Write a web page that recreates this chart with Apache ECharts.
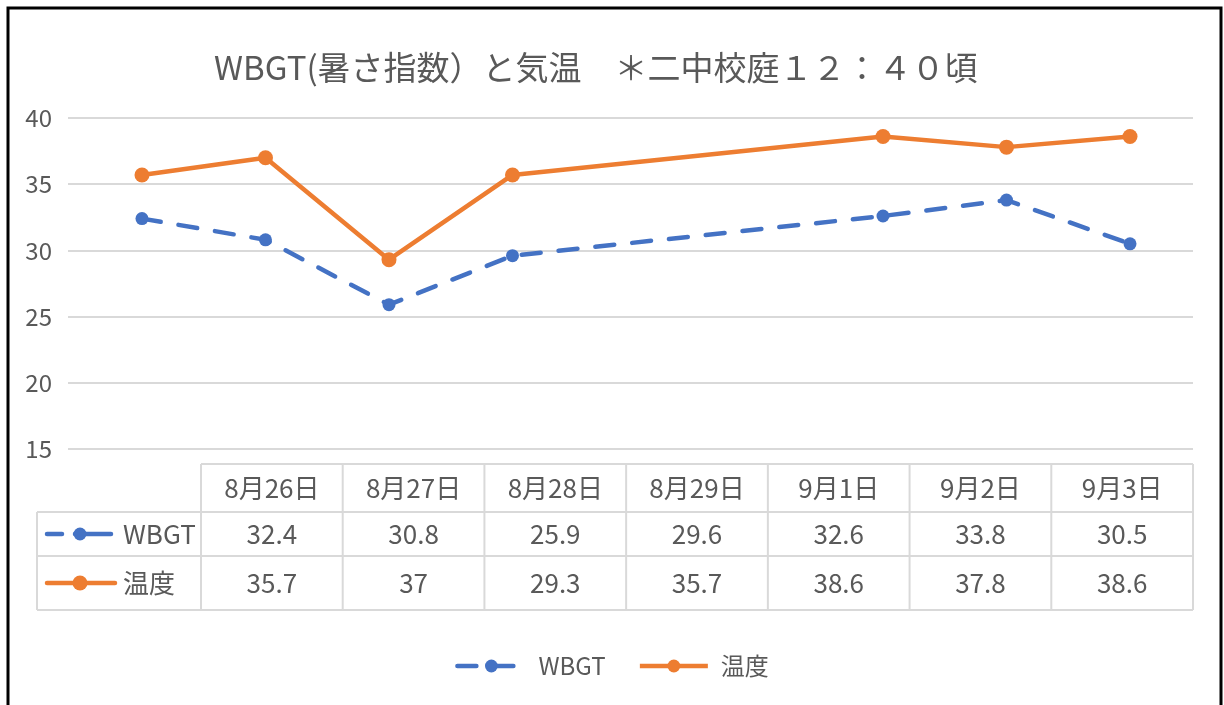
<!DOCTYPE html>
<html>
<head>
<meta charset="utf-8">
<script src="https://cdn.jsdelivr.net/npm/echarts@6/dist/echarts.min.js"></script>
<style>
html,body{margin:0;padding:0;background:#fff;}
#chart{width:1224px;height:705px;}
</style>
</head>
<body>
<div id="chart"></div>
<script>
// ---- data ----
const titleText = 'WBGT(暑さ指数）と気温　＊二中校庭１２：４０頃';
const dates = ['2023-08-26','2023-08-27','2023-08-28','2023-08-29','2023-09-01','2023-09-02','2023-09-03'];
const dateLabels = ['8月26日','8月27日','8月28日','8月29日','9月1日','9月2日','9月3日'];
const seriesNames = ['WBGT','温度'];
const wbgt = [32.4, 30.8, 25.9, 29.6, 32.6, 33.8, 30.5];
const temp = [35.7, 37, 29.3, 35.7, 38.6, 37.8, 38.6];
const wbgtLabels = ['32.4','30.8','25.9','29.6','32.6','33.8','30.5'];
const tempLabels = ['35.7','37','29.3','35.7','38.6','37.8','38.6'];

// ---- layout ----
const FONT = '"Noto Sans CJK JP", "Noto Sans", sans-serif';
const TXT = '#595959';
const GRIDC = '#d9d9d9';
const BLUE = '#4472C4';
const ORANGE = '#ED7D31';
const DAY = 86400000;
const parseD = s => { const p = s.split('-').map(Number); return new Date(p[0], p[1]-1, p[2]).getTime(); };
const t0 = parseD(dates[0]);
const xMin = t0 - 0.599 * DAY;
const xMax = xMin + 9.109 * DAY;

const tableLeft = 37, colStart = 201, colEnd = 1193;
const rowY = [464, 512, 556, 610];
const nCols = dateLabels.length;
const colW = (colEnd - colStart) / nCols;
const FS = 24;
const TFS = 26;

const graphics = [];
const lineStyle = {stroke: GRIDC, lineWidth: 2};
function hline(x1, x2, y){ graphics.push({type:'line', shape:{x1, y1:y, x2, y2:y}, style: lineStyle, silent:true}); }
function vline(x, y1, y2){ graphics.push({type:'line', shape:{x1:x, y1, x2:x, y2}, style: lineStyle, silent:true}); }
function text(str, x, y, align){ graphics.push({type:'text', x, y, style:{text:str, font:TFS + 'px ' + FONT, fill:TXT, align: align||'center', verticalAlign:'middle'}, silent:true}); }

// table grid lines
hline(colStart, colEnd, rowY[0]);
hline(tableLeft, colEnd, rowY[1]);
hline(tableLeft, colEnd, rowY[2]);
hline(tableLeft, colEnd, rowY[3]);
vline(tableLeft, rowY[1], rowY[3]);
for (let i = 0; i <= nCols; i++) vline(colStart + i * colW, rowY[0], rowY[3]);

// table texts
for (let i = 0; i < nCols; i++) {
  const cx = colStart + (i + 0.5) * colW;
  text(dateLabels[i], cx, (rowY[0] + rowY[1]) / 2);
  text(wbgtLabels[i], cx, (rowY[1] + rowY[2]) / 2);
  text(tempLabels[i], cx, (rowY[2] + rowY[3]) / 2);
}
// legend keys in table
const r1 = (rowY[1] + rowY[2]) / 2, r2 = (rowY[2] + rowY[3]) / 2;
graphics.push({type:'line', shape:{x1:47, y1:r1, x2:62, y2:r1}, style:{stroke:BLUE, lineWidth:4.5, lineCap:'round'}, silent:true});
graphics.push({type:'line', shape:{x1:75, y1:r1, x2:111, y2:r1}, style:{stroke:BLUE, lineWidth:4.5, lineCap:'round'}, silent:true});
graphics.push({type:'circle', shape:{cx:80, cy:r1, r:6.5}, style:{fill:BLUE}, silent:true});
graphics.push({type:'line', shape:{x1:47, y1:r2, x2:115, y2:r2}, style:{stroke:ORANGE, lineWidth:4.5, lineCap:'round'}, silent:true});
graphics.push({type:'circle', shape:{cx:80, cy:r2, r:7.5}, style:{fill:ORANGE}, silent:true});
text(seriesNames[0], 123, r1, 'left');
text(seriesNames[1], 123, r2, 'left');

// outer frame
graphics.push({type:'rect', shape:{x:8, y:8, width:1213, height:720}, style:{fill:'none', stroke:'#000', lineWidth:3}, silent:true});

const chart = echarts.init(document.getElementById('chart'), null, {renderer:'canvas'});
chart.setOption({
  animation: false,
  backgroundColor: '#fff',
  title: {
    text: titleText,
    left: 209, top: 46,
    textStyle: {fontFamily: FONT, fontSize: 33, fontWeight: 'normal', color: TXT}
  },
  grid: {left: 68, right: 31, top: 118, bottom: 256, containLabel: false},
  xAxis: {
    type: 'time', min: xMin, max: xMax,
    axisLine: {show: false}, axisTick: {show: false}, axisLabel: {show: false}, splitLine: {show: false}
  },
  yAxis: {
    type: 'value', min: 15, max: 40, interval: 5,
    axisLine: {show: false}, axisTick: {show: false},
    axisLabel: {fontFamily: FONT, fontSize: FS, color: TXT, margin: 16},
    splitLine: {lineStyle: {color: GRIDC, width: 2}}
  },
  legend: {
    bottom: 22, left: 'center',
    itemWidth: 68, itemHeight: 16, itemGap: 32,
    lineStyle: {width: 4.5},
    textStyle: {fontFamily: FONT, fontSize: FS, color: TXT, padding: [0,0,0,8]},
    data: seriesNames
  },
  series: [
    {
      name: seriesNames[0], type: 'line',
      data: dates.map((d, i) => [parseD(d), wbgt[i]]),
      symbol: 'circle', symbolSize: 13,
      itemStyle: {color: BLUE},
      lineStyle: {color: BLUE, width: 4.5, type: [19, 18], cap: 'round'}
    },
    {
      name: seriesNames[1], type: 'line',
      data: dates.map((d, i) => [parseD(d), temp[i]]),
      symbol: 'circle', symbolSize: 15,
      itemStyle: {color: ORANGE},
      lineStyle: {color: ORANGE, width: 4.5}
    }
  ],
  graphic: graphics
});
</script>
</body>
</html>
